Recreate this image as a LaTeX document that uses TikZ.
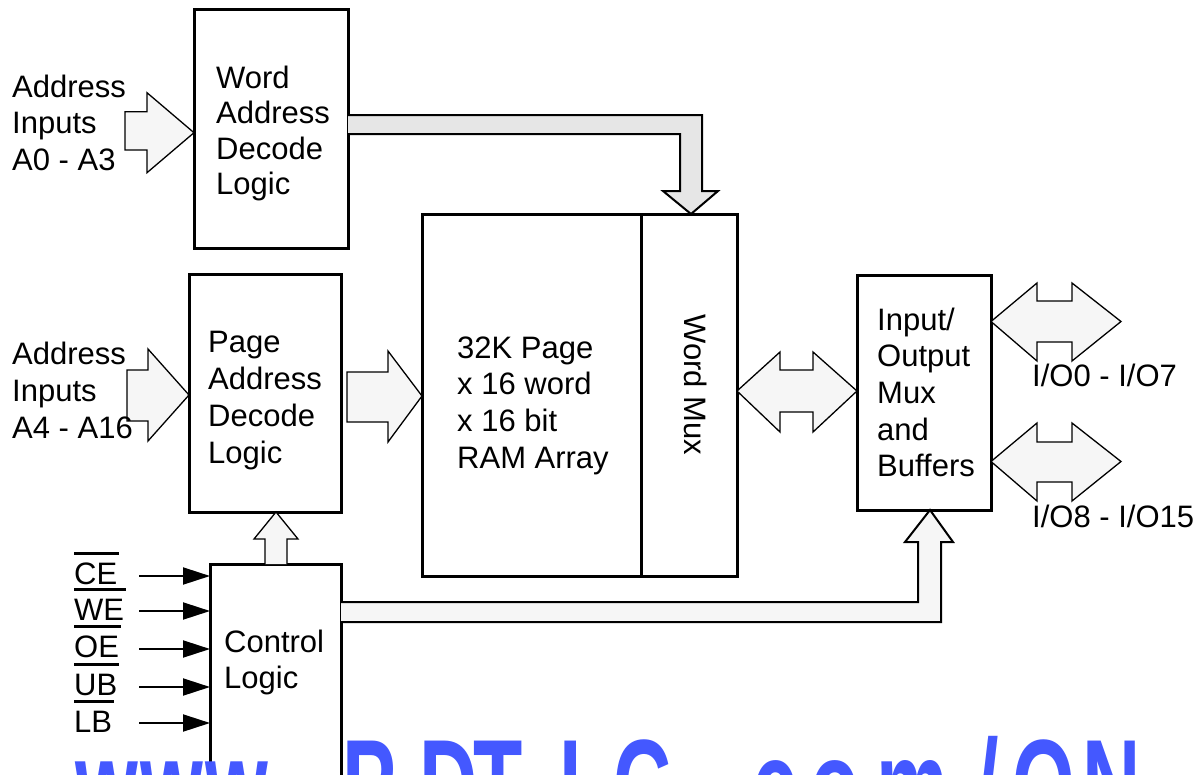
\documentclass[tikz,border=0pt]{standalone}
\usepackage{fontspec}
\setmainfont{Liberation Sans}
\usepackage{graphicx}
\usetikzlibrary{arrows.meta}
\definecolor{arrfill}{RGB}{246,246,246}
\definecolor{busfill}{RGB}{230,230,230}
\definecolor{wmblue}{RGB}{68,88,255}
\newcommand\ml[1]{\begin{tabular}[t]{@{}l@{}}#1\end{tabular}}
\newcommand\wmc[1]{\scalebox{0.62}[1]{\bfseries #1}}
\begin{document}
\begin{tikzpicture}[x=1pt,y=-1pt,
  box/.style={draw, line width=3pt, fill=white, inner sep=0pt, outer sep=0pt, anchor=north west},
  barrow/.style={draw, line width=1.3pt, fill=arrfill, line join=miter},
  bus/.style={draw, line width=2pt, line join=miter},
  lbl/.style={inner sep=0pt, anchor=base west, font=\fontsize{31}{36.5}\selectfont},
  sigarr/.style={line width=2pt, -{Triangle[length=27pt,width=17pt]}},
  ovl/.style={line width=3pt},
  wm/.style={inner sep=0pt, anchor=base west, text=wmblue, font=\fontsize{130}{130}\selectfont}]
\useasboundingbox (0,0) rectangle (1202,774);

% boxes
\node[box, minimum width=154pt, minimum height=239pt] (word) at (194,9) {};
\node[box, minimum width=152pt, minimum height=238pt] (page) at (189,274) {};
\node[box, minimum width=219pt, minimum height=362pt] (ram) at (422,214) {};
\node[box, minimum width=96pt, minimum height=362pt] (mux) at (641,214) {};
\node[box, minimum width=134pt, minimum height=235pt] (io) at (857,275) {};
\begin{scope}
\clip (0,0) rectangle (1202,774);
\node[box, minimum width=131pt, minimum height=240pt] (ctrl) at (210,564) {};
\end{scope}

% block arrows
\draw[barrow] (125,111.7) -- (147,111.7) -- (147,92.7) -- (word.west |- 0,132.7) -- (147,172.7) -- (147,150) -- (125,150) -- cycle;
\draw[barrow] (127,370) -- (148,370) -- (148,349) -- (page.west |- 0,395) -- (148,441) -- (148,421) -- (127,421) -- cycle;
\draw[barrow] (347,372) -- (388,372) -- (388,351) -- (ram.west |- 0,396) -- (388,442) -- (388,422) -- (347,422) -- cycle;
\draw[bus, fill=busfill] (word.east |- 0,115) -- (702,115) -- (702,191) -- (718,191) -- (mux.north -| 691,0) -- (663,191) -- (680,191) -- (680,134) -- (word.east |- 0,134);
\draw[barrow] (mux.east |- 0,391) -- (780,352) -- (780,370) -- (813,370) -- (813,352) -- (io.west |- 0,391) -- (813,432) -- (813,412) -- (780,412) -- (780,432) -- cycle;
\coordinate (io1) at (1121,321.5);
\coordinate (io2) at (1121,461.5);
\draw[barrow] (io.east |- 0,321.5) -- (1037,283) -- (1037,301) -- (1072,301) -- (1072,283) -- (io1) -- (1072,361) -- (1072,342) -- (1037,342) -- (1037,361) -- cycle;
\draw[barrow] (io.east |- 0,461.5) -- (1037,423) -- (1037,442) -- (1072,442) -- (1072,423) -- (io2) -- (1072,501) -- (1072,482) -- (1037,482) -- (1037,501) -- cycle;
\draw[barrow] (ctrl.north -| 265,0) -- (265,539) -- (254,539) -- (page.south -| 276,0) -- (298,539) -- (287,539) -- (ctrl.north -| 287,0);
\draw[bus, fill=arrfill] (ctrl.east |- 0,602) -- (918,602) -- (918,542) -- (905,542) -- (io.south -| 930,0) -- (953,542) -- (941,542) -- (941,622) -- (ctrl.east |- 0,622);

% control signals
\foreach \n/\y in {ce/576, we/611, oe/649, ub/687, lb/723} {
  \coordinate (s\n) at (139,\y);
  \draw[sigarr] (s\n) -- (ctrl.west |- s\n);
}
\foreach \n/\t/\y in {ce/CE/584, we/WE/620, oe/OE/657, ub/UB/695, lb/LB/732} {
  \node[lbl] (l\n) at (74,\y) {\t};
  \draw[ovl] ([yshift=31pt]l\n.base west) -- ([xshift=2pt,yshift=31pt]l\n.base east);
}

% texts
\node[lbl] (t0) at (12,97) {\ml{Address\\Inputs\\A0 - A3}};
\node[lbl, font=\fontsize{31}{35.5}\selectfont] (t1) at (216,88) {\ml{Word\\Address\\Decode\\Logic}};
\node[lbl, font=\fontsize{31}{37}\selectfont] (t2) at (12,364) {\ml{Address\\Inputs\\A4 - A16}};
\node[lbl, font=\fontsize{31}{37}\selectfont] (t3) at (208,352) {\ml{Page\\Address\\Decode\\Logic}};
\node[lbl, font=\fontsize{31}{36.7}\selectfont] (t4) at (457,358) {\ml{32K Page\\x 16 word\\x 16 bit\\RAM Array}};
\node[inner sep=0pt, rotate=-90, font=\fontsize{31}{36}\selectfont] (t5) at (696,385) {Word Mux};
\node[lbl, font=\fontsize{31}{36.7}\selectfont] (t6) at (877,330) {\ml{Input/\\Output\\Mux\\and\\Buffers}};
\node[lbl, font=\fontsize{31}{36}\selectfont] (t7) at (224,652) {\ml{Control\\Logic}};
\node[lbl] (t8) at (1032,386) {I/O0 - I/O7};
\node[lbl] (t9) at (1032,527) {I/O8 - I/O15};

% watermark
\begin{scope}
\clip (0,0) rectangle (1202,774);
\foreach \x/\c [count=\i] in {75/w, 140/w, 205/w, 285/., 342/P, 419/D, 473/T, 559/I, 613/C, 695/., 752/c, 810/o, 876/m, 1012/O, 1082/N} {
  \node[wm] (w\i) at (\x,830) {\wmc{\c}};
}
\node[wm] (wslash) at (976,830) {\wmc{/}};
\end{scope}
\end{tikzpicture}
\end{document}
